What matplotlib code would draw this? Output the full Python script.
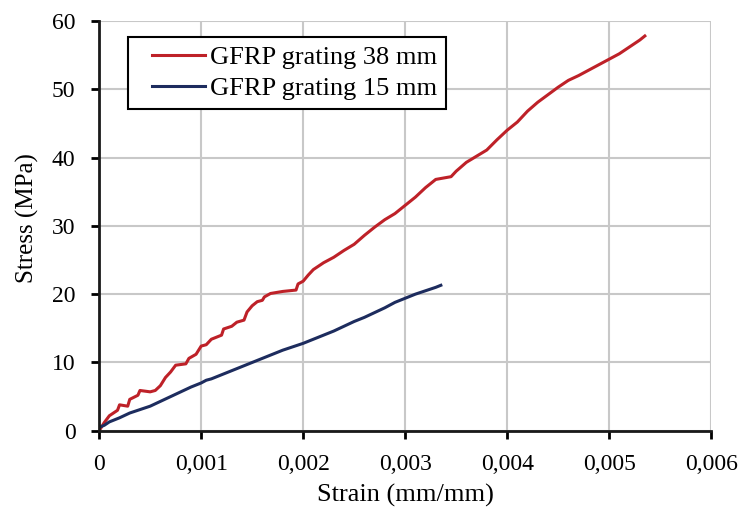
import numpy as np
import matplotlib.pyplot as plt
from matplotlib.lines import Line2D
from matplotlib.legend_handler import HandlerLine2D

# strain in 1e-3 mm/mm, stress in MPa
strain_38 = [0, 0.05, 0.1, 0.18, 0.2, 0.28, 0.3, 0.38, 0.4, 0.5, 0.55, 0.6, 0.65, 0.7, 0.75,
             0.85, 0.88, 0.95, 1.0, 1.05, 1.1, 1.2, 1.22, 1.3, 1.35, 1.42, 1.45, 1.5, 1.55,
             1.6, 1.62, 1.68, 1.8, 1.93, 1.95, 2.0, 2.05, 2.1, 2.2, 2.3, 2.4, 2.5, 2.6, 2.7,
             2.8, 2.9, 3.0, 3.1, 3.2, 3.3, 3.45, 3.5, 3.6, 3.7, 3.8, 3.9, 4.0, 4.1, 4.2, 4.3,
             4.4, 4.5, 4.6, 4.7, 4.8, 4.9, 5.0, 5.1, 5.2, 5.3, 5.35]
stress_38 = [0, 1.2, 2.2, 3.0, 3.8, 3.6, 4.6, 5.2, 5.9, 5.7, 5.9, 6.6, 7.8, 8.6, 9.6,
             9.8, 10.6, 11.2, 12.4, 12.6, 13.4, 14.0, 14.9, 15.3, 15.9, 16.2, 17.4, 18.3, 18.9,
             19.1, 19.6, 20.1, 20.4, 20.6, 21.5, 21.9, 22.8, 23.6, 24.6, 25.4, 26.4, 27.3, 28.6, 29.8,
             30.9, 31.8, 33.0, 34.2, 35.6, 36.8, 37.2, 38.0, 39.3, 40.2, 41.1, 42.6, 44.0, 45.2, 46.8, 48.1,
             49.2, 50.3, 51.3, 52.0, 52.8, 53.6, 54.4, 55.2, 56.2, 57.2, 57.8]

strain_15 = [0, 0.05, 0.1, 0.2, 0.3, 0.4, 0.5, 0.6, 0.7, 0.8, 0.9, 1.0, 1.05, 1.1, 1.2, 1.3,
             1.4, 1.5, 1.6, 1.7, 1.8, 1.9, 2.0, 2.1, 2.2, 2.3, 2.4, 2.5, 2.6, 2.7, 2.8, 2.9,
             3.0, 3.1, 3.2, 3.3, 3.35]
stress_15 = [0.5, 0.8, 1.3, 1.9, 2.6, 3.1, 3.6, 4.3, 5.0, 5.7, 6.4, 7.0, 7.4, 7.6, 8.2, 8.8,
             9.4, 10.0, 10.6, 11.2, 11.8, 12.3, 12.8, 13.4, 14.0, 14.6, 15.3, 16.0, 16.6, 17.3, 18.0, 18.8,
             19.4, 20.0, 20.5, 21.0, 21.3]

xticks = [0, 0.001, 0.002, 0.003, 0.004, 0.005, 0.006]
xlabels = ['0', '0,001', '0,002', '0,003', '0,004', '0,005', '0,006']
yticks = [0, 10, 20, 30, 40, 50, 60]

plt.rcParams['font.family'] = 'Liberation Serif'

fig = plt.figure(figsize=(7.4, 5.11), dpi=100)
ax = fig.add_axes([0.134, 0.157, 0.827, 0.802])

ax.plot(np.array(strain_38) * 1e-3, stress_38, color='#BE2128', lw=2.2,
        label='GFRP grating 38 mm')
ax.plot(np.array(strain_15) * 1e-3, stress_15, color='#1D2C5E', lw=2.2,
        label='GFRP grating 15 mm')

ax.set_xlim(0, 0.006)
ax.set_ylim(0, 60)
ax.set_xticks(xticks)
ax.set_xticklabels(xlabels)
ax.set_yticks(yticks)
ax.grid(True, color='#C8C8C8', lw=1.5)
ax.set_axisbelow(True)
for s in ['top', 'right']:
    ax.spines[s].set_visible(False)
for s in ['left', 'bottom']:
    ax.spines[s].set_linewidth(2)
    ax.spines[s].set_color('#1a1a1a')
ax.tick_params(direction='out', length=6, width=2, labelsize=17)
ax.tick_params(axis='x', pad=11)
ax.tick_params(axis='y', pad=11)
ax.set_xlabel('Strain (mm/mm)', fontsize=19, labelpad=6)
ax.set_ylabel('Stress (MPa)', fontsize=18, labelpad=9)
ax.yaxis.label.set_y(0.52)

leg = ax.legend(loc='upper left', bbox_to_anchor=(0.047, 0.961), borderaxespad=0,
                fontsize=19, fancybox=False, framealpha=1, edgecolor='black',
                handlelength=2.6, handletextpad=0.2, borderpad=0.32, labelspacing=0.3,
                handler_map={Line2D: HandlerLine2D(xpad=0.6)})
leg.get_frame().set_linewidth(1.5)

fig.savefig('out.png', dpi=100)
